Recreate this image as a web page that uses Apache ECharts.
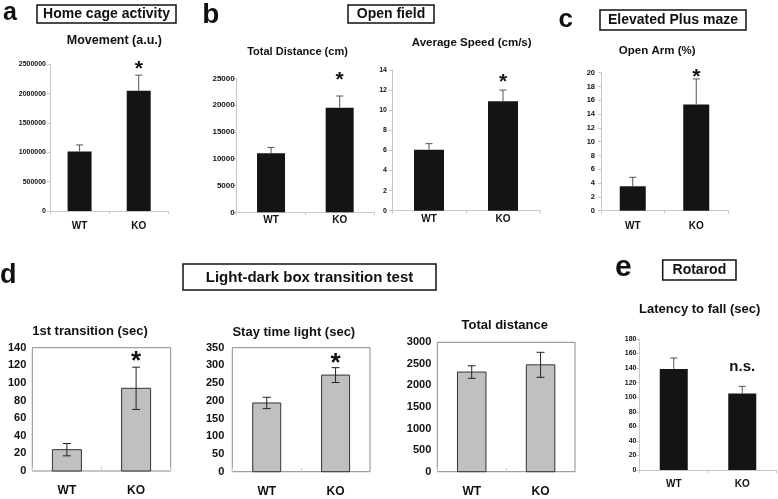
<!DOCTYPE html>
<html>
<head>
<meta charset="utf-8">
<script src="https://cdn.jsdelivr.net/npm/echarts@6/dist/echarts.min.js"></script>
<style>
html,body{margin:0;padding:0;background:#fff;}
#chart{width:778px;height:499px;}
</style>
</head>
<body>
<div id="chart"></div>
<script>
// ---------- data ----------
const groups = ['WT', 'KO'];

const movementMean = [1013000, 2050000];
const movementSem  = [113000, 265000];
const movementSig  = ['', '*'];
const movementAxis = [0, 2500000, 500000];

const distanceMean = [11000, 19500];
const distanceSem  = [1100, 2200];
const distanceSig  = ['', '*'];
const distanceAxis = [0, 25000, 5000];

const speedMean = [6.07, 10.9];
const speedSem  = [0.6, 1.1];
const speedSig  = ['', '*'];
const speedAxis = [0, 14, 2];

const openArmMean = [3.54, 15.4];
const openArmSem  = [1.3, 3.7];
const openArmSig  = ['', '*'];
const openArmAxis = [0, 20, 2];

const firstTransMean = [24.2, 93.9];
const firstTransSem  = [7, 24];
const firstTransSig  = ['', '*'];
const firstTransAxis = [0, 140, 20];

const stayLightMean = [194, 272.7];
const stayLightSem  = [16, 21];
const stayLightSig  = ['', '*'];
const stayLightAxis = [0, 350, 50];

const ldDistMean = [2310, 2478];
const ldDistSem  = [145, 290];
const ldDistSig  = ['', ''];
const ldDistAxis = [0, 3000, 500];

const latencyMean = [138.9, 105.2];
const latencySem  = [15, 9.7];
const latencySig  = ['', 'n.s.'];
const latencyAxis = [0, 180, 20];

// ---------- layout / style ----------
const FONT = "'Liberation Sans', Arial, Helvetica, sans-serif";

// sigDy: offset (px) of the annotation's visual centre relative to the top of the error bar
const panels = [
  {mean: movementMean, sem: movementSem, sig: movementSig, axis: movementAxis, kind: 'black',
   grid: {left: 50, top: 64.3, width: 118.3, height: 146.7}, barW: 24, yFont: 7, yMargin: 4, xFont: 10, xMargin: 10, sigFont: 21, sigDy: -9},
  {mean: distanceMean, sem: distanceSem, sig: distanceSig, axis: distanceAxis, kind: 'black',
   grid: {left: 236.7, top: 78.3, width: 137.3, height: 134}, barW: 28, yFont: 8, yMargin: 2, xFont: 10, xMargin: 3, sigFont: 21, sigDy: -18.7},
  {mean: speedMean, sem: speedSem, sig: speedSig, axis: speedAxis, kind: 'black',
   grid: {left: 392, top: 70, width: 148, height: 140.7}, barW: 30, yFont: 7, yMargin: 5, xFont: 10, xMargin: 4, sigFont: 21, sigDy: -11.2},
  {mean: openArmMean, sem: openArmSem, sig: openArmSig, axis: openArmAxis, kind: 'black',
   grid: {left: 601, top: 72.7, width: 127, height: 138}, barW: 26, yFont: 7.5, yMargin: 6, xFont: 10, xMargin: 11, sigFont: 21, sigDy: -5.5},
  {mean: firstTransMean, sem: firstTransSem, sig: firstTransSig, axis: firstTransAxis, kind: 'gray',
   grid: {left: 32.3, top: 347.7, width: 138.4, height: 123.3}, barW: 29, yFont: 11, yMargin: 6, xFont: 12, xMargin: 14, sigFont: 26, sigDy: -9.4},
  {mean: stayLightMean, sem: stayLightSem, sig: stayLightSig, axis: stayLightAxis, kind: 'gray',
   grid: {left: 232.3, top: 347.7, width: 137.7, height: 124}, barW: 28, yFont: 11, yMargin: 8, xFont: 12, xMargin: 14, sigFont: 26, sigDy: -8},
  {mean: ldDistMean, sem: ldDistSem, sig: ldDistSig, axis: ldDistAxis, kind: 'gray',
   grid: {left: 437.3, top: 342.3, width: 137.7, height: 129.4}, barW: 28.5, yFont: 11, yMargin: 6, xFont: 12, xMargin: 14, sigFont: 26, sigDy: -9},
  {mean: latencyMean, sem: latencySem, sig: latencySig, axis: latencyAxis, kind: 'black',
   grid: {left: 639.5, top: 339, width: 137, height: 131}, barW: 28, yFont: 7, yMargin: 3, xFont: 10, xMargin: 9, sigFont: 15, sigDy: -18.4}
];

const styles = {
  black: {fill: '#141414', stroke: '#141414', strokeW: 0, err: '#555', twoSided: false, cap: 7},
  gray:  {fill: '#c0c0c0', stroke: '#333', strokeW: 1, err: '#222', twoSided: true, cap: 8}
};

function makeRender(p) {
  const st = styles[p.kind];
  return function (params, api) {
    const i = api.value(0);
    const v = api.value(1);
    const e = api.value(2);
    const top = api.coord([i, v]);
    const base = api.coord([i, 0]);
    const eTop = api.coord([i, v + e]);
    const eLow = api.coord([i, v - e]);
    const x = top[0];
    const w = p.barW;
    const ch = [];
    ch.push({type: 'rect', shape: {x: x - w / 2, y: top[1], width: w, height: base[1] - top[1]},
      style: {fill: st.fill, stroke: st.strokeW ? st.stroke : null, lineWidth: st.strokeW}});
    const lowY = st.twoSided ? eLow[1] : top[1];
    ch.push({type: 'line', shape: {x1: x, y1: eTop[1], x2: x, y2: lowY}, style: {stroke: st.err, lineWidth: 1}});
    ch.push({type: 'line', shape: {x1: x - st.cap / 2, y1: eTop[1], x2: x + st.cap / 2, y2: eTop[1]}, style: {stroke: st.err, lineWidth: 1}});
    if (st.twoSided) {
      ch.push({type: 'line', shape: {x1: x - st.cap / 2, y1: eLow[1], x2: x + st.cap / 2, y2: eLow[1]}, style: {stroke: st.err, lineWidth: 1}});
    }
    const s = p.sig[i];
    if (s) {
      const centre = eTop[1] + p.sigDy;
      // glyph correction: an asterisk sits high in its em box
      const y = s === '*' ? centre + 0.16 * p.sigFont : centre - 0.05 * p.sigFont;
      ch.push({type: 'text', style: {text: s, x: x, y: y, textAlign: 'center', textVerticalAlign: 'middle',
        fontFamily: FONT, fontWeight: 'bold', fontSize: p.sigFont, fill: '#111'}});
    }
    return {type: 'group', children: ch};
  };
}

const grids = [], xAxes = [], yAxes = [], series = [];
panels.forEach(function (p, k) {
  const gray = p.kind === 'gray';
  grids.push(Object.assign({
    show: gray, borderColor: '#8a8a8a', borderWidth: 1, backgroundColor: gray ? '#fff' : 'transparent', containLabel: false
  }, p.grid));
  xAxes.push({
    type: 'category', gridIndex: k, data: groups,
    axisLine: {show: !gray, lineStyle: {color: '#c8c8c8', width: 1}},
    axisTick: {show: true, inside: gray, length: gray ? 4 : 3, lineStyle: {color: '#c8c8c8'}},
    axisLabel: {fontFamily: FONT, fontWeight: 'bold', fontSize: p.xFont, color: '#111', margin: p.xMargin}
  });
  yAxes.push({
    type: 'value', gridIndex: k, min: p.axis[0], max: p.axis[1], interval: p.axis[2],
    splitLine: {show: false},
    axisLine: {show: !gray, lineStyle: {color: '#c8c8c8', width: 1}},
    axisTick: {show: !gray, length: 3, lineStyle: {color: '#c8c8c8'}},
    axisLabel: {fontFamily: FONT, fontWeight: 'bold', fontSize: p.yFont, color: '#111', margin: p.yMargin,
      formatter: function (v) { return String(v); }}
  });
  series.push({
    type: 'custom', xAxisIndex: k, yAxisIndex: k,
    renderItem: makeRender(p),
    encode: {x: 0, y: 1},
    data: groups.map(function (g, i) { return [i, p.mean[i], p.sem[i]]; }),
    silent: true, clip: false
  });
});

function txt(text, x, y, size, align) {
  return {type: 'text', silent: true, style: {text: text, x: x, y: y, textAlign: align || 'center',
    textVerticalAlign: 'middle', fontFamily: FONT, fontWeight: 'bold', fontSize: size, fill: '#111'}};
}
function box(text, x, y, w, h, size) {
  return [
    {type: 'rect', silent: true, shape: {x: x, y: y, width: w, height: h}, style: {fill: '#fff', stroke: '#111', lineWidth: 1.5}},
    txt(text, x + w / 2, y + h / 2 + 0.5, size)
  ];
}

const graphics = [].concat(
  box('Home cage activity', 37, 5, 139, 18, 14),
  box('Open field', 348, 5, 86, 18, 14),
  box('Elevated Plus maze', 600, 10, 146, 20, 14),
  box('Light-dark box transition test', 183, 264, 253, 26, 15),
  box('Rotarod', 662.7, 260, 73.3, 20, 14),
  [
    txt('a', 10, 13, 25),
    txt('b', 210.8, 15.5, 28),
    txt('c', 565.8, 20, 26),
    txt('d', 8.3, 275.5, 27),
    txt('e', 623.3, 268, 30),
    txt('Movement (a.u.)', 114.4, 40.7, 12.5),
    txt('Total Distance (cm)', 297.5, 51.7, 11),
    txt('Average Speed (cm/s)', 471.7, 43.3, 11.5),
    txt('Open Arm (%)', 657.2, 50.7, 11.5),
    txt('1st transition (sec)', 90, 331.7, 13),
    txt('Stay time light (sec)', 293.8, 332.3, 13),
    txt('Total distance', 504.7, 325, 13),
    txt('Latency to fall (sec)', 699.7, 309, 13)
  ]
);

const chart = echarts.init(document.getElementById('chart'), null, {renderer: 'canvas'});
chart.setOption({
  backgroundColor: '#fff',
  animation: false,
  grid: grids,
  xAxis: xAxes,
  yAxis: yAxes,
  series: series,
  graphic: graphics
});
</script>
</body>
</html>
